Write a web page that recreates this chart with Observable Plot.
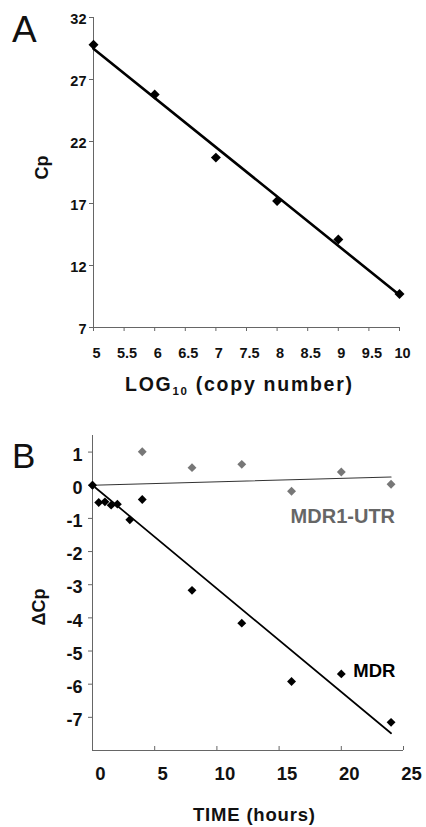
<!DOCTYPE html>
<html>
<head>
<meta charset="utf-8">
<script src="https://cdn.jsdelivr.net/npm/d3@7"></script>
<script src="https://cdn.jsdelivr.net/npm/@observablehq/plot@0.6"></script>
<style>
  html, body { margin: 0; padding: 0; background: #fff; }
  #wrap { position: relative; width: 426px; height: 827px; overflow: hidden;
          font-family: "Liberation Sans", Arial, Helvetica, sans-serif; }
  #wrap > svg, #wrap > div { position: absolute; left: 0; }
  #panelA { top: 0; }
  #panelB { top: 400px; }
  #overlay { top: 0; pointer-events: none; }
  g[aria-label="xtickA"], g[aria-label="ytickA"] { letter-spacing: 1px; }
  g[aria-label="xtickB"] { letter-spacing: 4px; }
  g[aria-label="utrLabel"] { letter-spacing: -0.4px; }
</style>
</head>
<body>
<div id="wrap">
  <div id="panelA"></div>
  <div id="panelB"></div>
  <svg id="overlay" width="426" height="827" xmlns="http://www.w3.org/2000/svg"
       font-family="Liberation Sans, Arial, Helvetica, sans-serif">
    <text x="12" y="41.5" font-size="37" fill="#111">A</text>
    <text x="12" y="468" font-size="35" fill="#111">B</text>
    <text transform="translate(48,167.5) rotate(-90)" text-anchor="middle" font-size="18" font-weight="bold" fill="#111">Cp</text>
    <text transform="translate(45,607) rotate(-90)" text-anchor="middle" font-size="18" font-weight="bold" fill="#111">ΔCp</text>
    <text x="125" y="391" font-size="19.5" font-weight="bold" fill="#111" textLength="227" lengthAdjust="spacing">LOG<tspan font-size="11.5" dy="4">10</tspan><tspan dy="-4"> (copy number)</tspan></text>
    <text x="193" y="821" font-size="18.5" font-weight="bold" fill="#111" textLength="122" lengthAdjust="spacing">TIME (hours)</text>
  </svg>
</div>
<script>
// ---- Panel A: standard curve ----
const logCopy  = [5, 6, 7, 8, 9, 10];
const cpValues = [29.8, 25.8, 20.7, 17.2, 14.1, 9.7];
const xTicksA  = [5, 5.5, 6, 6.5, 7, 7.5, 8, 8.5, 9, 9.5, 10];
const yTicksA  = [7, 12, 17, 22, 27, 32];

// ---- Panel B: time course ----
const timeMDR  = [0, 0.5, 1, 1.5, 2, 3, 4, 8, 12, 16, 20, 24];
const dCpMDR   = [0, -0.52, -0.5, -0.6, -0.57, -1.04, -0.43, -3.17, -4.16, -5.92, -5.69, -7.15];
const timeUTR  = [0, 4, 8, 12, 16, 20, 24];
const dCpUTR   = [0, 1.01, 0.53, 0.63, -0.18, 0.40, 0.03];
const fitTime  = [0, 24];
const fitMDR   = [0, -7.48];
const fitUTR   = [0, 0.25];
const xTicksB  = [0, 5, 10, 15, 20, 25];
const yTicksB  = [-7, -6, -5, -4, -3, -2, -1, 0, 1];
const seriesNames = ["MDR1-UTR", "MDR"];

const FONT = "Liberation Sans, Arial, Helvetica, sans-serif";
const AXIS = "#666";

const rowsA = logCopy.map((x, i) => ({x, y: cpValues[i]}));

const plotA = Plot.plot({
  width: 426, height: 400,
  marginLeft: 93, marginRight: 27, marginTop: 17, marginBottom: 73,
  style: {fontFamily: FONT, background: "#fff", overflow: "visible"},
  x: {domain: [5, 10]},
  y: {domain: [7, 32]},
  marks: [
    Plot.ruleX([5], {stroke: AXIS}),
    Plot.ruleY([7], {stroke: AXIS}),
    Plot.axisX({ticks: xTicksA, tickSize: 4, tickFormat: () => "", label: null, stroke: AXIS}),
    Plot.axisY({ticks: yTicksA, tickSize: 4, tickFormat: () => "", label: null, stroke: AXIS}),
    Plot.text(xTicksA, {x: d => d, text: d => String(d), frameAnchor: "bottom", lineAnchor: "top",
      dy: 20, dx: 3, fontSize: 14.5, fontWeight: "bold", fill: "#111", ariaLabel: "xtickA"}),
    Plot.text(yTicksA, {y: d => d, text: d => String(d), frameAnchor: "left", textAnchor: "end",
      dx: -7, dy: 2, fontSize: 14.5, fontWeight: "bold", fill: "#111", ariaLabel: "ytickA"}),
    Plot.dot(rowsA, {x: "x", y: "y", symbol: "diamond2", r: 4.5, fill: "#000"}),
    Plot.linearRegressionY(rowsA, {x: "x", y: "y", ci: 0, stroke: "#000", strokeWidth: 2.6})
  ]
});
document.getElementById("panelA").appendChild(plotA);

const rowsMDR = timeMDR.map((x, i) => ({x, y: dCpMDR[i]}));
const rowsUTR = timeUTR.map((x, i) => ({x, y: dCpUTR[i]}));
const fitRows = fitTime.map((x, i) => ({x, mdr: fitMDR[i], utr: fitUTR[i]}));
const lastU = timeUTR.length - 1;
const utrLabel = [{t: seriesNames[0], x: timeUTR[lastU], y: dCpUTR[lastU]}];
const mdrLabel = [{t: seriesNames[1], x: timeMDR[10], y: dCpMDR[10]}];

const plotB = Plot.plot({
  width: 426, height: 427,
  marginLeft: 92, marginRight: 23, marginTop: 35, marginBottom: 77,
  style: {fontFamily: FONT, background: "#fff", overflow: "visible"},
  x: {domain: [0, 25]},
  y: {domain: [-8, 1.5]},
  marks: [
    Plot.ruleX([0], {stroke: AXIS}),
    Plot.ruleY([-8], {stroke: AXIS}),
    Plot.axisX({ticks: xTicksB, tickSize: -4, tickFormat: () => "", label: null, stroke: AXIS}),
    Plot.axisY({ticks: yTicksB, tickSize: 4, tickFormat: () => "", label: null, stroke: AXIS}),
    Plot.text(xTicksB, {x: d => d, text: d => String(d), frameAnchor: "bottom", lineAnchor: "top",
      dy: 16, dx: 8, fontSize: 18.5, fontWeight: "bold", fill: "#111", ariaLabel: "xtickB"}),
    Plot.text(yTicksB, {y: d => d, text: d => String(d), frameAnchor: "left", textAnchor: "end",
      dx: -10, dy: 3, fontSize: 18, fontWeight: "bold", fill: "#111", ariaLabel: "ytickB"}),
    Plot.line(fitRows, {x: "x", y: "utr", stroke: "#333", strokeWidth: 1.1}),
    Plot.line(fitRows, {x: "x", y: "mdr", stroke: "#000", strokeWidth: 1.7}),
    Plot.dot(rowsUTR, {x: "x", y: "y", symbol: "diamond2", r: 4, fill: "#777"}),
    Plot.dot(rowsMDR, {x: "x", y: "y", symbol: "diamond2", r: 4, fill: "#000"}),
    Plot.text(utrLabel, {x: "x", y: "y", text: "t", textAnchor: "end", dx: 4, dy: 32,
      fontSize: 20, fontWeight: "bold", fill: "#666", ariaLabel: "utrLabel"}),
    Plot.text(mdrLabel, {x: "x", y: "y", text: "t", textAnchor: "start", dx: 12, dy: -3,
      fontSize: 18.5, fontWeight: "bold", fill: "#000", ariaLabel: "mdrLabel"})
  ]
});
document.getElementById("panelB").appendChild(plotB);
</script>
</body>
</html>
